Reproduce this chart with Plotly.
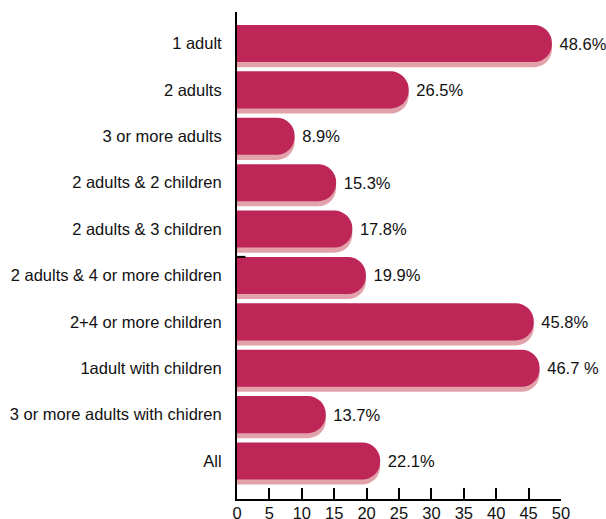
import plotly.graph_objects as go

categories = ["1 adult", "2 adults", "3 or more adults", "2 adults & 2 children",
              "2 adults & 3 children", "2 adults & 4 or more children",
              "2+4 or more children", "1adult with children",
              "3 or more adults with chidren", "All"]
values = [48.6, 26.5, 8.9, 15.3, 17.8, 19.9, 45.8, 46.7, 13.7, 22.1]
value_labels = ["48.6%", "26.5%", "8.9%", "15.3%", "17.8%", "19.9%", "45.8%", "46.7 %", "13.7%", "22.1%"]
x_ticks = [0, 5, 10, 15, 20, 25, 30, 35, 40, 45, 50]

MAIN = "#BD2657"
SHADOW = "#E2A2AA"
FONT = "Arial, Liberation Sans, sans-serif"

fig = go.Figure()
bw = 0.8
fig.add_trace(go.Bar(
    y=categories, x=values, orientation="h",
    marker=dict(color=SHADOW, cornerradius="50%", line=dict(width=0)),
    width=bw, offset=-bw / 2 + 0.11, hoverinfo="skip", showlegend=False,
))
fig.add_trace(go.Bar(
    y=categories, x=values, orientation="h",
    marker=dict(color=MAIN, cornerradius="50%", line=dict(width=0)),
    width=bw, offset=-bw / 2,
    text=[" " + t for t in value_labels], textposition="outside",
    textfont=dict(family=FONT, size=16.5, color="#111111"),
    constraintext="none", cliponaxis=False, showlegend=False,
))

fig.add_shape(type="line", xref="x", yref="y", x0=0, x1=1.3, y0=4.6, y1=4.6,
              line=dict(color="black", width=2))

fig.update_layout(
    width=606, height=519,
    margin=dict(l=237, r=45, t=12, b=20, autoexpand=False),
    barmode="overlay",
    paper_bgcolor="white", plot_bgcolor="white",
    font=dict(family=FONT, size=16.5, color="#111111"),
    xaxis=dict(range=[0, 50], tickvals=x_ticks, ticks="inside", ticklen=11,
               tickwidth=2, tickcolor="black", showline=True, linewidth=2,
               linecolor="black", showgrid=False, zeroline=False,
               automargin=False, tickfont=dict(size=16.5),
               ticklabelstandoff=-2),
    yaxis=dict(categoryorder="array", categoryarray=categories,
               range=[9.82, -0.68], showline=True, linewidth=2,
               linecolor="black", showgrid=False, zeroline=False, ticks="",
               ticklabelstandoff=10, automargin=False, tickfont=dict(size=16.5)),
)

fig.write_html("out.html", config={"displayModeBar": False},
               post_script="document.body.style.margin='0';document.body.style.padding='0';")
